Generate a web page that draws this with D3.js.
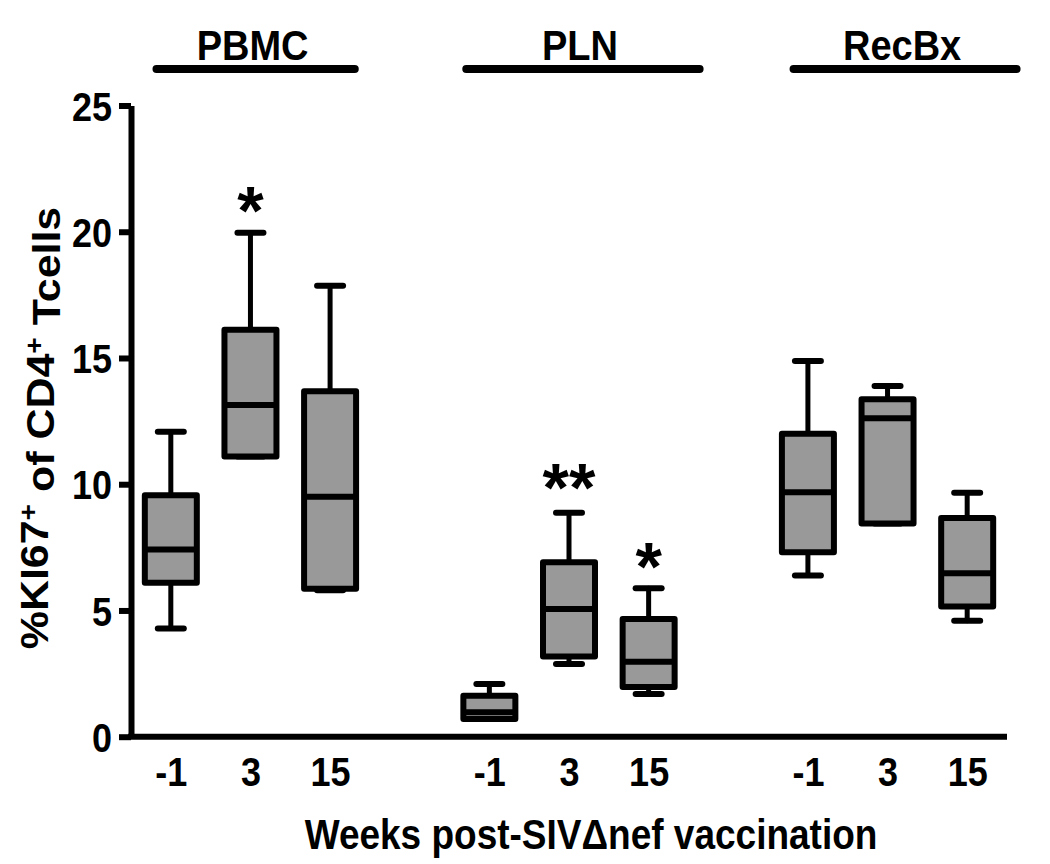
<!DOCTYPE html>
<html>
<head>
<meta charset="utf-8">
<script src="https://cdn.jsdelivr.net/npm/d3@7"></script>
<style>
  html, body { margin: 0; padding: 0; background: #fff; }
  svg { display: block; }
  text { font-family: "Liberation Sans", Arial, sans-serif; font-weight: bold; fill: #000; }
</style>
</head>
<body>
<svg id="chart" width="1050" height="864"></svg>
<script>
// ---- data ----
const groups = ["PBMC", "PLN", "RecBx"];
const weeks = ["-1", "3", "15"];
const yTicks = [0, 5, 10, 15, 20, 25];

// per group, per week (order: -1, 3, 15)
const minVals    = [[4.29, 11.10, 5.80], [0.70, 2.88, 1.69], [6.38, 8.44, 4.59]];
const q1Vals     = [[6.10, 11.10, 5.86], [0.70, 3.18, 1.97], [7.31, 8.44, 5.16]];
const medianVals = [[7.41, 13.14, 9.50], [0.97, 5.06, 2.97], [9.68, 12.61, 6.47]];
const q3Vals     = [[9.56, 16.12, 13.68], [1.62, 6.91, 4.66], [12.00, 13.37, 8.66]];
const maxVals    = [[12.08, 19.96, 17.86], [2.09, 8.87, 5.88], [14.88, 13.89, 9.66]];

// significance markers: [group index, week index, text, y value of marker centre]
const sigGroup = [0, 1, 1];
const sigWeek  = [1, 1, 2];
const sigText  = ["*", "**", "*"];
const sigY     = [21.25, 10.27, 7.14];

// group bracket extents, in slot units
const groupSpanStart = [-0.18, 3.71, 7.82];
const groupSpanEnd   = [2.31, 6.64, 10.62];

const yTitle = "%KI67";
const xTitle = "Weeks post-SIV\u0394nef vaccination";

// ---- build ----
const K = 1.13; // vertical stretch of lettering seen in the reference
const svg = d3.select("#chart");
const slotOf = (g, w) => g * 4 + w; // one empty slot between groups

const x = d3.scaleLinear().domain([-0.5, 10.5]).range([131, 1007]);
const y = d3.scaleLinear().domain([0, 25]).range([736.7, 105.5]);

function stretchText(sel, tx, ty) {
  sel.attr("x", 0).attr("y", 0).attr("dy", null)
     .attr("transform", `translate(${tx},${ty}) scale(1,${K})`);
}

const boxes = [];
groups.forEach((g, gi) => weeks.forEach((w, wi) => {
  boxes.push({ g, w, slot: slotOf(gi, wi),
    min: minVals[gi][wi], q1: q1Vals[gi][wi], med: medianVals[gi][wi],
    q3: q3Vals[gi][wi], max: maxVals[gi][wi] });
}));

// Y axis
const tickFs = 36;
const yAxis = d3.axisLeft(y).tickValues(yTicks).tickSize(12).tickPadding(6).tickSizeOuter(0);
const yg = svg.append("g").attr("transform", `translate(${x.range()[0]},0)`).call(yAxis);
yg.select(".domain").attr("stroke", "#000").attr("stroke-width", 6);
yg.selectAll(".tick line").attr("stroke", "#000").attr("stroke-width", 6);
yg.selectAll(".tick text").style("font-size", tickFs + "px")
  .each(function () { stretchText(d3.select(this), -19, tickFs * 0.716 * K / 2); });

// X axis
const xAxis = d3.axisBottom(x).tickValues(boxes.map(b => b.slot))
  .tickFormat((d, i) => boxes[i].w).tickSize(0).tickPadding(20).tickSizeOuter(0);
const xg = svg.append("g").attr("transform", `translate(0,${y(0)})`).call(xAxis);
xg.select(".domain").attr("stroke", "#000").attr("stroke-width", 6)
  .attr("d", `M${x.range()[0] - 3},0H${x.range()[1]}`);
xg.selectAll(".tick text").style("font-size", tickFs + "px")
  .each(function () { stretchText(d3.select(this), 0, 49); });

// Boxes
const bw = 52, capW = 26;
const bg = svg.append("g").attr("stroke", "#000").attr("stroke-linecap", "round");
boxes.forEach(b => {
  const cx = x(b.slot);
  bg.append("line").attr("x1", cx).attr("x2", cx).attr("y1", y(b.max)).attr("y2", y(b.q3)).attr("stroke-width", 5);
  bg.append("line").attr("x1", cx).attr("x2", cx).attr("y1", y(b.min)).attr("y2", y(b.q1)).attr("stroke-width", 5);
  bg.append("line").attr("x1", cx - capW / 2).attr("x2", cx + capW / 2).attr("y1", y(b.max)).attr("y2", y(b.max)).attr("stroke-width", 6);
  bg.append("line").attr("x1", cx - capW / 2).attr("x2", cx + capW / 2).attr("y1", y(b.min)).attr("y2", y(b.min)).attr("stroke-width", 6);
  bg.append("rect").attr("x", cx - bw / 2).attr("width", bw)
    .attr("y", y(b.q3)).attr("height", y(b.q1) - y(b.q3))
    .attr("fill", "#999999").attr("stroke-width", 6).attr("stroke-linejoin", "round");
  bg.append("line").attr("x1", cx - bw / 2).attr("x2", cx + bw / 2).attr("y1", y(b.med)).attr("y2", y(b.med))
    .attr("stroke-width", 6).attr("stroke-linecap", "butt");
});

// significance stars
const starFs = 68;
sigText.forEach((t, i) => {
  svg.append("text").attr("x", x(slotOf(sigGroup[i], sigWeek[i])))
    .attr("y", y(sigY[i]) + starFs * 0.5)
    .attr("text-anchor", "middle").style("font-size", starFs + "px").text(t);
});

// Group labels and bars
groups.forEach((g, gi) => {
  const x0 = x(groupSpanStart[gi]), x1 = x(groupSpanEnd[gi]);
  svg.append("line").attr("x1", x0).attr("x2", x1).attr("y1", 69).attr("y2", 69)
    .attr("stroke", "#000").attr("stroke-width", 8).attr("stroke-linecap", "round");
  const t = svg.append("text").attr("text-anchor", "middle").style("font-size", "38px").text(g);
  stretchText(t, (x0 + x1) / 2 - 3, 60);
});

// Axis titles
const yt = svg.append("text").attr("transform", `translate(48,428) rotate(-90) scale(${K},1)`)
  .attr("text-anchor", "middle").style("font-size", "38px");
yt.append("tspan").text(yTitle);
yt.append("tspan").attr("dy", "-0.45em").style("font-size", "25px").text("+");
yt.append("tspan").attr("dy", "0.45em").text(" of CD4");
yt.append("tspan").attr("dy", "-0.45em").style("font-size", "25px").text("+");
yt.append("tspan").attr("dy", "0.45em").text(" Tcells");

const xt = svg.append("text").attr("text-anchor", "middle").style("font-size", "37px").text(xTitle);
stretchText(xt, 591, 849);
</script>
</body>
</html>
